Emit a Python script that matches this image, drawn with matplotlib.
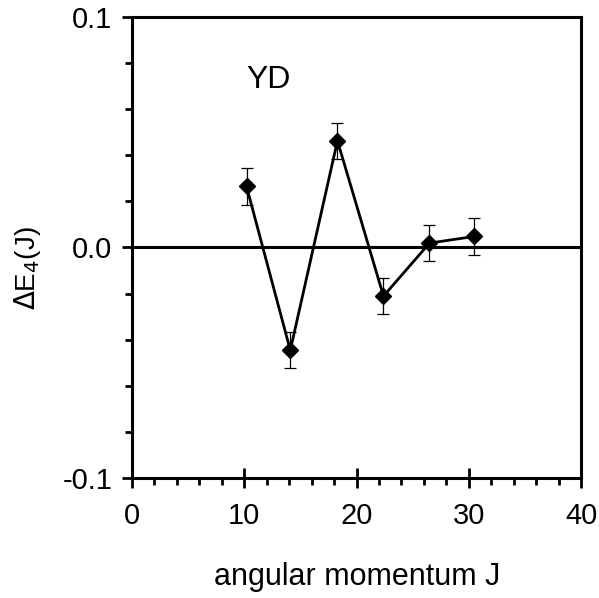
import numpy as np
import matplotlib.pyplot as plt
from matplotlib.ticker import MultipleLocator

J = [10.2, 14.1, 18.3, 22.4, 26.5, 30.5]
dE4 = [0.0265, -0.0446, 0.0463, -0.0211, 0.0019, 0.0048]
err = [0.0079, 0.0079, 0.0079, 0.0079, 0.0079, 0.0079]

plt.rcParams['font.family'] = ['Liberation Sans', 'DejaVu Sans']

fig = plt.figure(figsize=(5.99, 5.98), dpi=100)
ax = fig.add_axes([0.2204, 0.2007, 0.7496, 0.7709])

ax.axhline(0.0, color='black', lw=2.2, zorder=1)
ax.errorbar(J, dE4, yerr=err, fmt='none', ecolor='black', elinewidth=0.9,
            capsize=4.5, capthick=0.9, zorder=2)
ax.plot(J, dE4, color='black', lw=2.0, marker='D', ms=8.5, zorder=3)

ax.set_xlim(0, 40)
ax.set_ylim(-0.1, 0.1)
ax.xaxis.set_major_locator(MultipleLocator(10))
ax.xaxis.set_minor_locator(MultipleLocator(2))
ax.yaxis.set_major_locator(MultipleLocator(0.1))
ax.yaxis.set_minor_locator(MultipleLocator(0.02))
ax.tick_params(which='major', direction='inout', length=14, width=2,
               labelsize=21)
ax.tick_params(axis='x', which='major', pad=10)
ax.tick_params(axis='y', which='major', pad=7)
ax.tick_params(which='minor', direction='out', length=5, width=2)
ax.set_yticks([-0.1, 0.0, 0.1])
ax.set_yticklabels(['-0.1', '0.0', '0.1'])
for s in ax.spines.values():
    s.set_linewidth(2.2)

ax.text(0.255, 0.845, 'YD', transform=ax.transAxes, fontsize=23)
ax.set_xlabel('angular momentum J', fontsize=22)
ax.set_ylabel(r'$\Delta$E$_4$(J)', fontsize=20)
ax.xaxis.set_label_coords(0.501, -0.183)
ax.yaxis.set_label_coords(-0.198, 0.456)

fig.savefig('out.png', dpi=100)
